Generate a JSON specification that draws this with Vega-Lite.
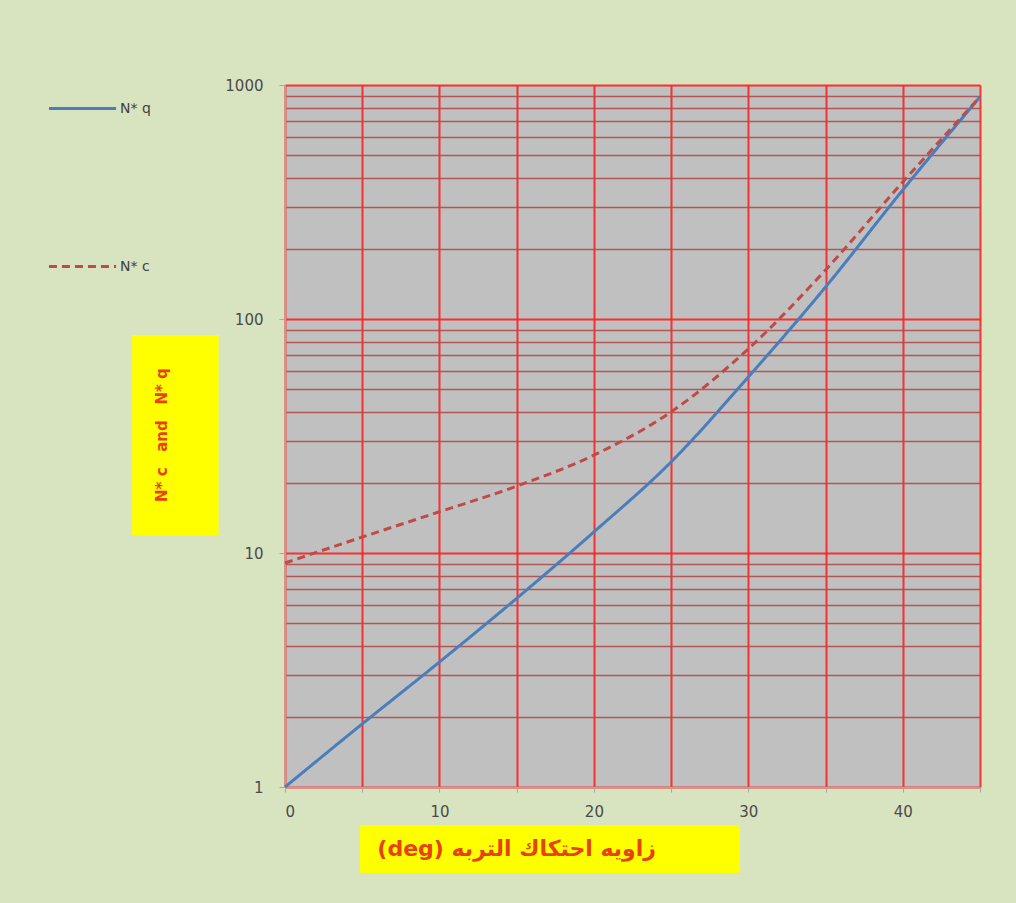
{
  "$schema": "https://vega.github.io/schema/vega-lite/v6.json",
  "width": 695,
  "height": 702,
  "autosize": {"type": "none"},
  "padding": {"left": 285, "top": 85, "right": 36, "bottom": 116},
  "background": "#d8e4bf",
  "config": {
    "view": {"fill": "#c0c0c0", "stroke": null},
    "font": "DejaVu Sans"
  },
  "data": {
    "values": [
      {"phi": 0, "series": "N* q", "N": 1},
      {"phi": 5, "series": "N* q", "N": 1.86},
      {"phi": 10, "series": "N* q", "N": 3.42},
      {"phi": 15, "series": "N* q", "N": 6.4},
      {"phi": 20, "series": "N* q", "N": 12.3},
      {"phi": 25, "series": "N* q", "N": 24.5},
      {"phi": 30, "series": "N* q", "N": 56.5},
      {"phi": 35, "series": "N* q", "N": 137},
      {"phi": 40, "series": "N* q", "N": 356},
      {"phi": 45, "series": "N* q", "N": 890},
      {"phi": 0, "series": "N* c", "N": 9.06},
      {"phi": 5, "series": "N* c", "N": 11.7},
      {"phi": 10, "series": "N* c", "N": 15.0},
      {"phi": 15, "series": "N* c", "N": 19.3},
      {"phi": 20, "series": "N* c", "N": 26.2},
      {"phi": 25, "series": "N* c", "N": 40.1},
      {"phi": 30, "series": "N* c", "N": 74.5},
      {"phi": 35, "series": "N* c", "N": 162},
      {"phi": 40, "series": "N* c", "N": 385},
      {"phi": 45, "series": "N* c", "N": 890}
    ]
  },
  "layer": [
    {
      "mark": {"type": "line", "strokeWidth": 3, "interpolate": "monotone"},
      "encoding": {
        "x": {
          "field": "phi",
          "type": "quantitative",
          "scale": {"domain": [0, 45], "nice": false, "zero": false},
          "axis": {
            "title": null,
            "values": [0, 5, 10, 15, 20, 25, 30, 35, 40, 45],
            "labelExpr": "datum.value % 10 == 0 ? datum.label : ''",
            "grid": true,
            "gridColor": "#ff2020",
            "gridWidth": 2,
            "gridOpacity": 0.9,
            "domainColor": "#a8a8a8",
            "domainWidth": 1.5,
            "tickColor": "#a8a8a8",
            "tickSize": 5,
            "labelFont": "DejaVu Sans",
            "labelFontSize": 15,
            "labelColor": "#4a4a4a",
            "labelPadding": 12
          }
        },
        "y": {
          "field": "N",
          "type": "quantitative",
          "scale": {"type": "log", "domain": [1, 1000], "nice": false},
          "axis": {
            "title": null,
            "values": [1, 2, 3, 4, 5, 6, 7, 8, 9, 10, 20, 30, 40, 50, 60, 70, 80, 90, 100, 200, 300, 400, 500, 600, 700, 800, 900, 1000],
            "format": "d",
            "labelExpr": "indexof([1, 10, 100, 1000], datum.value) >= 0 ? datum.label : ''",
            "grid": true,
            "gridColor": {"condition": {"test": "indexof([1, 10, 100, 1000], datum.value) >= 0", "value": "#ff2020"}, "value": "#b04a4a"},
            "gridWidth": {"condition": {"test": "indexof([1, 10, 100, 1000], datum.value) >= 0", "value": 2}, "value": 1.3},
            "gridOpacity": 0.9,
            "domainColor": "#a8a8a8",
            "domainWidth": 1.5,
            "tickColor": {"condition": {"test": "indexof([1, 10, 100, 1000], datum.value) >= 0", "value": "#a8a8a8"}, "value": "transparent"},
            "tickSize": 6,
            "labelFont": "DejaVu Sans",
            "labelFontSize": 15,
            "labelColor": "#4a4a4a",
            "labelPadding": 16
          }
        },
        "color": {
          "field": "series",
          "type": "nominal",
          "scale": {"domain": ["N* q", "N* c"], "range": ["#4a7ebb", "#be4b48"]},
          "legend": {
            "title": null,
            "orient": "none",
            "legendX": -238,
            "legendY": -12,
            "symbolType": "stroke",
            "symbolSize": 4500,
            "symbolStrokeWidth": 3,
            "rowPadding": 115,
            "labelFont": "DejaVu Sans",
            "labelFontSize": 14,
            "labelColor": "#404040",
            "labelOffset": 2
          }
        },
        "strokeDash": {
          "field": "series",
          "type": "nominal",
          "scale": {"domain": ["N* q", "N* c"], "range": [[1, 0], [8, 5]]},
          "legend": null
        }
      }
    },
    {
      "data": {"values": [{}]},
      "mark": {"type": "rect", "color": "#ffff00"},
      "encoding": {
        "x": {"datum": 4.86, "type": "quantitative"},
        "x2": {"datum": 29.46},
        "y": {"datum": 0.688, "type": "quantitative"},
        "y2": {"datum": 0.429}
      }
    },
    {
      "data": {"values": [{}]},
      "mark": {"type": "rect", "color": "#ffff00"},
      "encoding": {
        "x": {"datum": -9.9, "type": "quantitative"},
        "x2": {"datum": -4.3},
        "y": {"datum": 85.4, "type": "quantitative"},
        "y2": {"datum": 11.9}
      }
    },
    {
      "data": {"values": [{"t": "(deg) زاويه احتكاك التربه"}]},
      "mark": {"type": "text", "fontSize": 22, "fontWeight": "bold", "color": "#e8420c", "font": "DejaVu Sans"},
      "encoding": {
        "x": {"datum": 15.0, "type": "quantitative"},
        "y": {"datum": 0.543, "type": "quantitative"},
        "text": {"field": "t"}
      }
    },
    {
      "data": {"values": [{"t": "N* c\u00a0\u00a0 and\u00a0\u00a0 N* q"}]},
      "mark": {"type": "text", "fontSize": 15, "fontWeight": "bold", "color": "#e8420c", "font": "DejaVu Sans", "angle": 270},
      "encoding": {
        "x": {"datum": -7.96, "type": "quantitative"},
        "y": {"datum": 31.9, "type": "quantitative"},
        "text": {"field": "t"}
      }
    }
  ]
}
